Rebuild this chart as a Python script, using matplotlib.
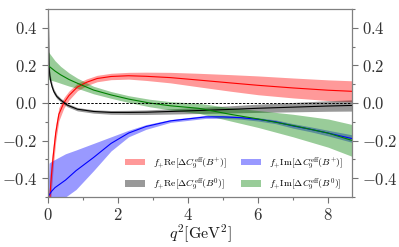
import matplotlib
matplotlib.use('Agg')
import matplotlib.pyplot as plt
import matplotlib.ticker as ticker
import numpy as np

plt.rcParams['mathtext.fontset'] = 'cm'
plt.rcParams['font.family'] = 'serif'
plt.rcParams['font.serif'] = ['cmr10', 'DejaVu Serif']

# f+ Re[dC9eff(B+)]  (red)
re_bp_x = [0.03, 0.06, 0.1, 0.15, 0.22, 0.31, 0.45, 0.6, 0.84, 1.1, 1.4, 1.8, 2.3, 2.8,
           3.5, 4.3, 5.2, 6.0, 7.0, 8.0, 8.7]
re_bp_mid = [-0.62, -0.48, -0.38, -0.28, -0.16, -0.06, 0.0, 0.04, 0.085, 0.11, 0.13, 0.141,
             0.145, 0.142, 0.135, 0.122, 0.107, 0.094, 0.08, 0.068, 0.062]
re_bp_err = [0.12, 0.1, 0.08, 0.06, 0.045, 0.035, 0.028, 0.024, 0.02, 0.018, 0.017, 0.017,
             0.018, 0.022, 0.028, 0.036, 0.044, 0.05, 0.053, 0.055, 0.056]

# f+ Re[dC9eff(B0)]  (black)
re_b0_x = [0.005, 0.012, 0.02, 0.03, 0.05, 0.08, 0.12, 0.17, 0.25, 0.36, 0.55, 0.84, 1.3,
           1.8, 2.3, 2.8, 3.5, 4.3, 5.2, 6.0, 7.0, 8.0, 8.7]
re_b0_mid = [0.7, 0.45, 0.3, 0.2, 0.145, 0.114, 0.085, 0.06, 0.035, 0.016, -0.011, -0.033,
             -0.045, -0.05, -0.05, -0.049, -0.045, -0.04, -0.034, -0.028, -0.022, -0.016, -0.013]
re_b0_err = [0.1, 0.08, 0.05, 0.035, 0.025, 0.02, 0.016, 0.013, 0.011, 0.01, 0.009, 0.009,
             0.009, 0.01, 0.011, 0.012, 0.014, 0.016, 0.019, 0.022, 0.025, 0.028, 0.03]

# f+ Im[dC9eff(B+)]  (blue)
im_bp_x = [0.0, 0.03, 0.1, 0.2, 0.35, 0.5, 0.8, 1.3, 1.8, 2.3, 2.8, 3.5, 4.5, 5.0, 5.5,
           6.0, 6.5, 7.0, 7.5, 8.0, 8.7]
im_bp_mid = [-0.5, -0.49, -0.47, -0.45, -0.43, -0.41, -0.36, -0.29, -0.215, -0.16, -0.125,
             -0.095, -0.074, -0.074, -0.078, -0.087, -0.1, -0.122, -0.14, -0.16, -0.19]
im_bp_hi = [-0.5, -0.32, -0.31, -0.3, -0.285, -0.27, -0.25, -0.215, -0.18, -0.145, -0.115,
            -0.088, -0.066, -0.066, -0.07, -0.078, -0.09, -0.11, -0.127, -0.145, -0.17]
im_bp_lo = [-0.6, -0.6, -0.6, -0.57, -0.53, -0.5, -0.46, -0.36, -0.255, -0.18, -0.14,
            -0.103, -0.082, -0.082, -0.086, -0.096, -0.11, -0.134, -0.153, -0.175, -0.21]

# f+ Im[dC9eff(B0)]  (green)
im_b0_x = [0.0, 0.2, 0.36, 0.6, 0.84, 1.3, 1.8, 2.3, 2.9, 3.5, 4.3, 5.2, 6.0, 7.0, 8.0, 8.7]
im_b0_mid = [0.2, 0.17, 0.15, 0.125, 0.105, 0.069, 0.043, 0.021, 0.0, -0.015, -0.028, -0.06,
             -0.085, -0.12, -0.16, -0.2]
im_b0_err = [0.075, 0.055, 0.045, 0.035, 0.027, 0.02, 0.018, 0.018, 0.02, 0.022, 0.027,
             0.035, 0.045, 0.06, 0.075, 0.085]

labels = [r'$f_{+}\mathrm{Re}[\Delta C_9^{\mathrm{eff}}(B^{+})]$',
          r'$f_{+}\mathrm{Re}[\Delta C_9^{\mathrm{eff}}(B^{0})]$',
          r'$f_{+}\mathrm{Im}[\Delta C_9^{\mathrm{eff}}(B^{+})]$',
          r'$f_{+}\mathrm{Im}[\Delta C_9^{\mathrm{eff}}(B^{0})]$']


def band(ax, x, lo, hi, mid, color, label):
    ax.fill_between(x, lo, hi, color=color, alpha=0.4, lw=0, label=label)
    ax.plot(x, mid, color=color, lw=0.8)


fig = plt.figure(figsize=(3.99, 2.47), dpi=100)
ax = fig.add_axes([0.1203, 0.2024, 0.7617, 0.7612])

m, e = np.array(re_bp_mid), np.array(re_bp_err)
band(ax, re_bp_x, m - e, m + e, m, 'red', labels[0])
m, e = np.array(re_b0_mid), np.array(re_b0_err)
band(ax, re_b0_x, m - e, m + e, m, 'black', labels[1])
band(ax, im_bp_x, im_bp_lo, im_bp_hi, im_bp_mid, 'blue', labels[2])
m, e = np.array(im_b0_mid), np.array(im_b0_err)
band(ax, im_b0_x, m - e, m + e, m, 'green', labels[3])

ax.axhline(0, color='black', ls='--', lw=0.7, dashes=(2.5, 1.5))

ax.set_xlim(0, 8.68)
ax.set_ylim(-0.5, 0.5)
ax.xaxis.set_major_locator(ticker.MultipleLocator(2))
ax.xaxis.set_minor_locator(ticker.MultipleLocator(1))
ax.yaxis.set_major_locator(ticker.MultipleLocator(0.2))
ax.yaxis.set_minor_locator(ticker.MultipleLocator(0.1))
ax.xaxis.set_major_formatter(ticker.FuncFormatter(lambda v, p: r'$%d$' % round(v)))
ax.yaxis.set_major_formatter(ticker.FuncFormatter(lambda v, p: r'$%.1f$' % v))

ax.tick_params(which='both', direction='out', right=True, labelright=True,
               colors='0.45', labelcolor='0.2', labelsize=12, width=0.8)
ax.tick_params(which='major', length=4)
ax.tick_params(which='minor', length=2.5)
for s in ax.spines.values():
    s.set_color('0.5')
    s.set_linewidth(0.9)

ax.set_xlabel(r'$q^2[\mathrm{GeV}^2]$', fontsize=11.5, color='0.1', labelpad=0)

ax.legend(ncol=2, loc='lower right', bbox_to_anchor=(1.0, -0.02), frameon=False,
          fontsize=7.0, handlelength=2.1, columnspacing=1.4, labelspacing=0.55,
          handletextpad=0.8)

fig.savefig('out.png', dpi=100)
